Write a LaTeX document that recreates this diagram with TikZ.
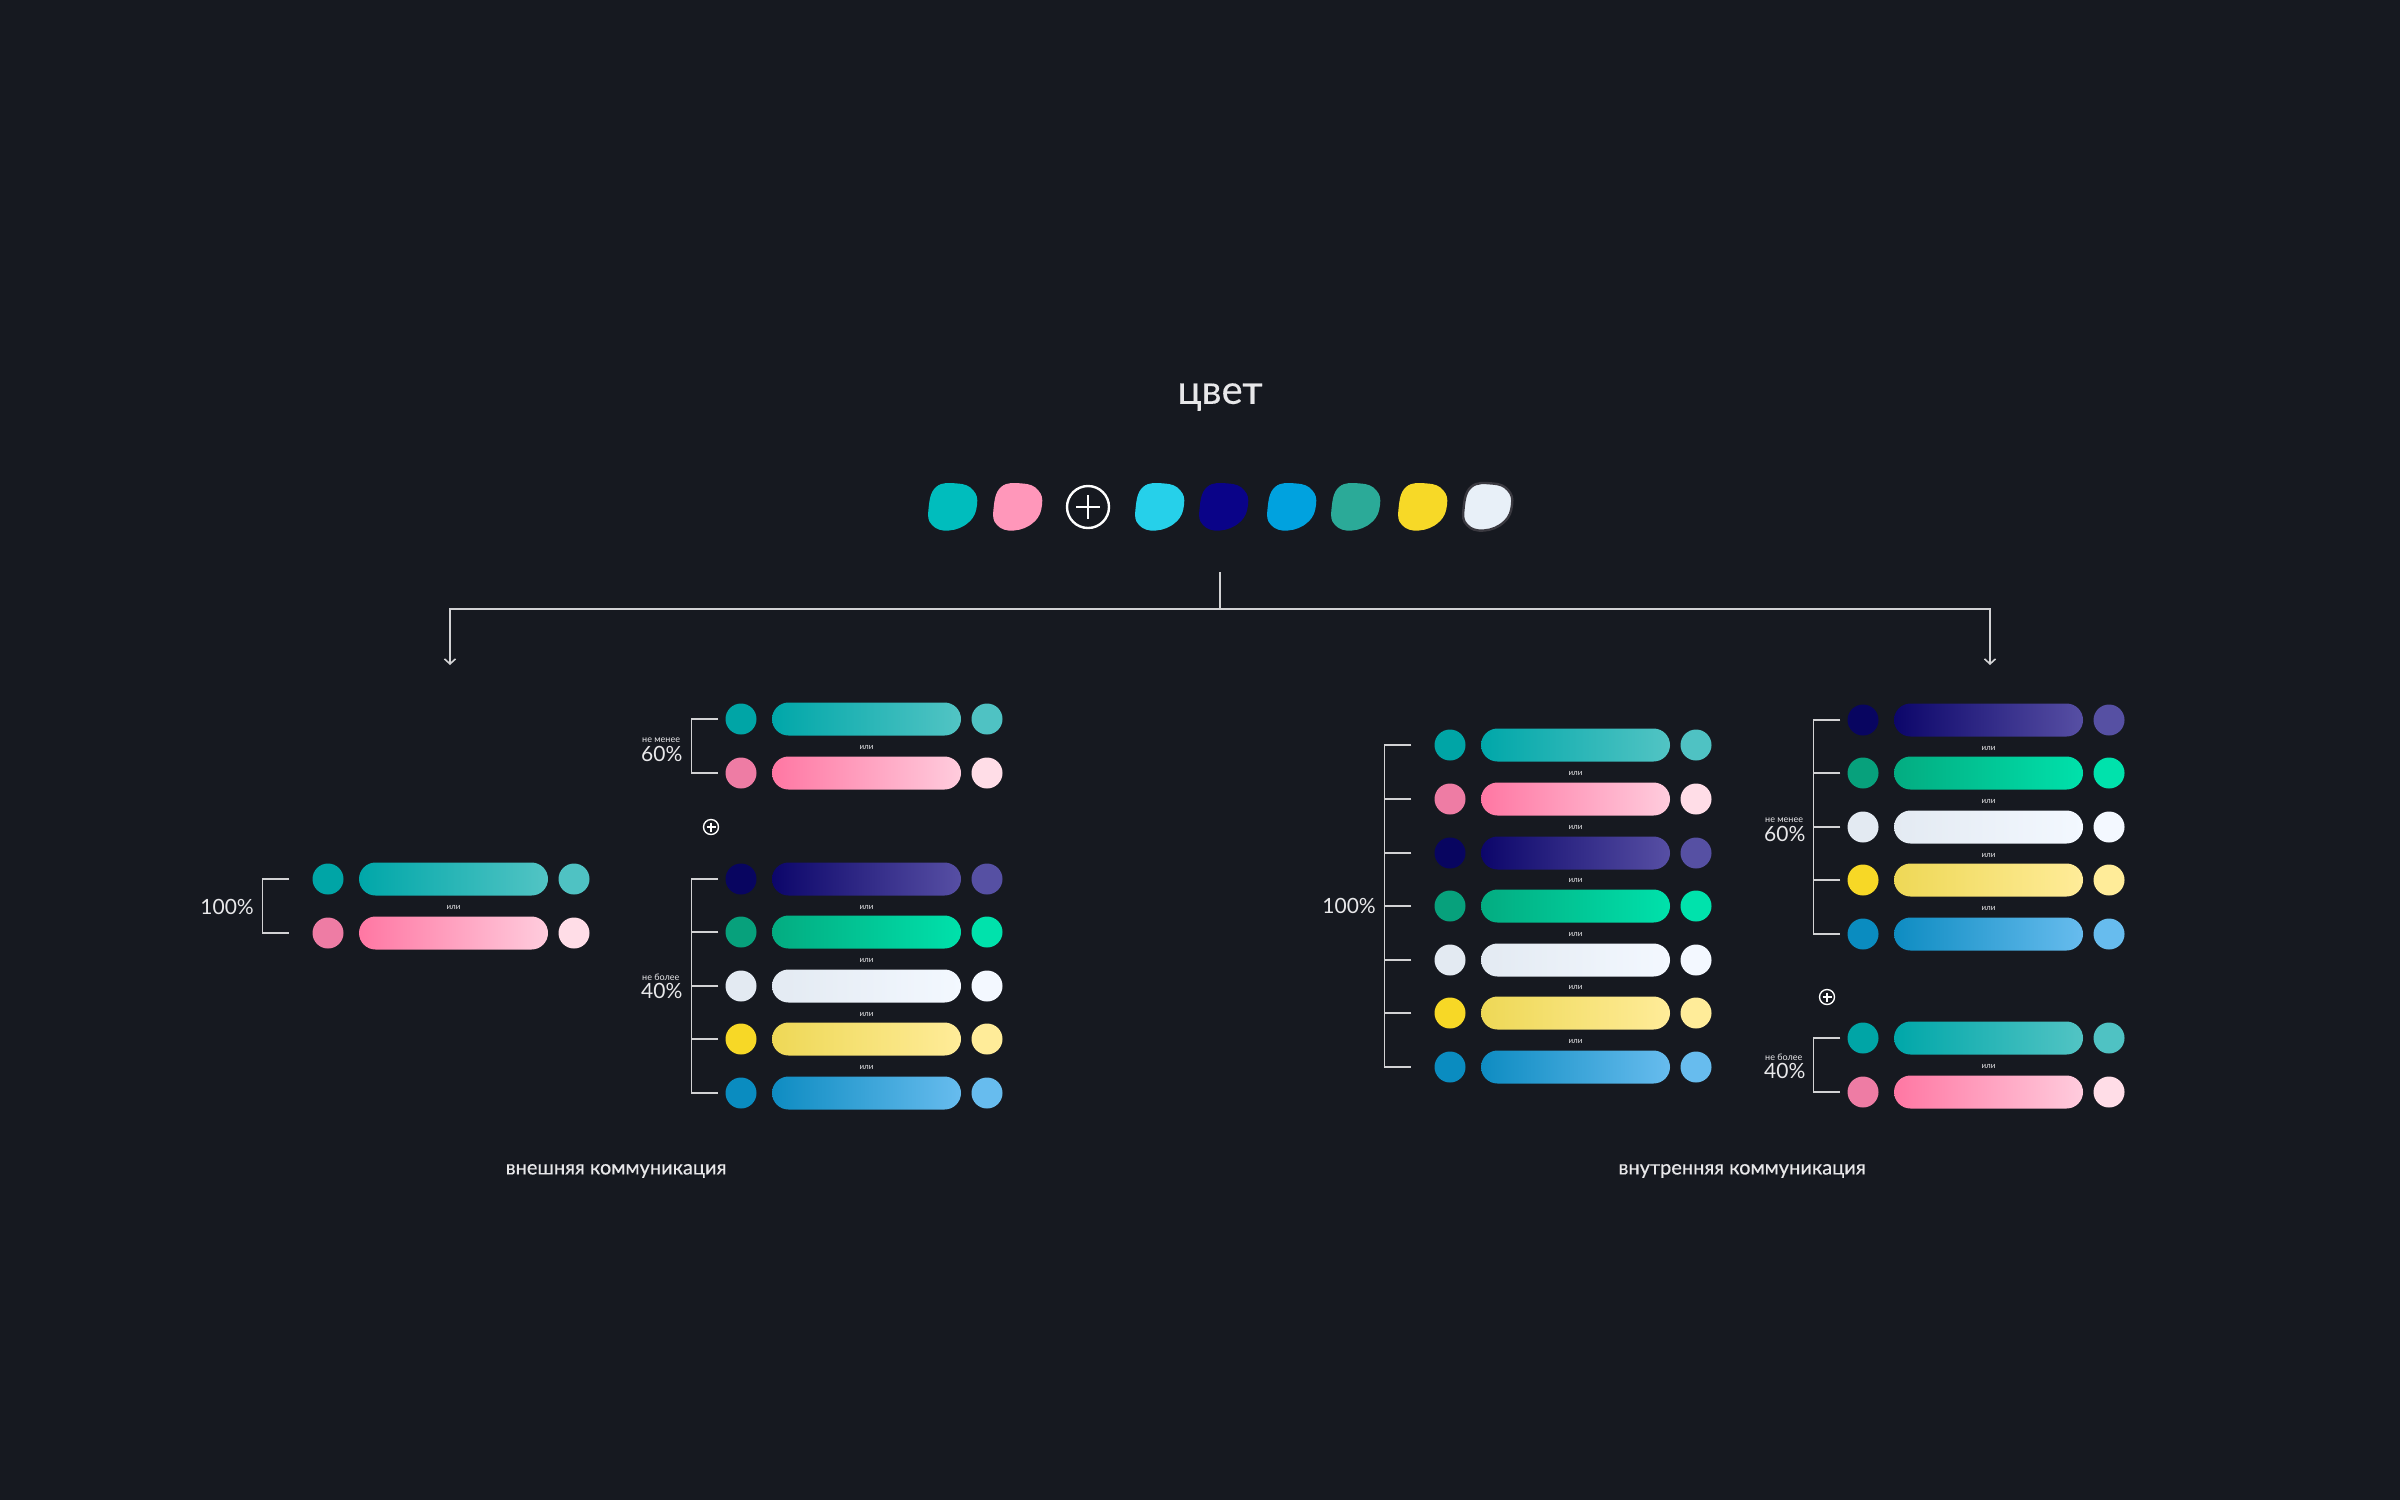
\documentclass[tikz,border=0pt]{standalone}
\usepackage{fontspec}
\setmainfont{Lato}
\newfontfamily\medfont{Lato}[FakeBold=0.35]
\usetikzlibrary{shapes.misc,arrows.meta,calc}
\definecolor{bgc}{HTML}{161920}
\definecolor{txtc}{HTML}{E8E8EA}
\definecolor{linec}{HTML}{D2D2D4}
% palettes: L = left dot, A/B = bar gradient, R = right dot
\definecolor{tealL}{HTML}{00A5A6}\definecolor{tealA}{HTML}{00A7A9}\definecolor{tealB}{HTML}{52C4C4}\definecolor{tealR}{HTML}{4FC2C3}
\definecolor{pinkL}{HTML}{EE7CA4}\definecolor{pinkA}{HTML}{FF77A3}\definecolor{pinkB}{HTML}{FFCCDD}\definecolor{pinkR}{HTML}{FFDDE7}
\definecolor{navyL}{HTML}{080560}\definecolor{navyA}{HTML}{0C066A}\definecolor{navyB}{HTML}{574FA4}\definecolor{navyR}{HTML}{5650A3}
\definecolor{grnL}{HTML}{07A17C}\definecolor{grnA}{HTML}{03AC81}\definecolor{grnB}{HTML}{00E1AB}\definecolor{grnR}{HTML}{00E2AC}
\definecolor{whtL}{HTML}{E3EAF2}\definecolor{whtA}{HTML}{E3EAF2}\definecolor{whtB}{HTML}{F3F8FF}\definecolor{whtR}{HTML}{F3F8FF}
\definecolor{ylwL}{HTML}{F7D826}\definecolor{ylwA}{HTML}{EED856}\definecolor{ylwB}{HTML}{FFEC99}\definecolor{ylwR}{HTML}{FFEC99}
\definecolor{bluL}{HTML}{0A8CC0}\definecolor{bluA}{HTML}{0E8CC2}\definecolor{bluB}{HTML}{67BCEE}\definecolor{bluR}{HTML}{67BCEE}
% blob colours
\definecolor{b1}{HTML}{00BDBD}\definecolor{b2}{HTML}{FF97BA}\definecolor{b3}{HTML}{26D0EA}
\definecolor{b4}{HTML}{0A0388}\definecolor{b5}{HTML}{00A2DF}\definecolor{b6}{HTML}{2BAA98}
\definecolor{b7}{HTML}{F7D927}\definecolor{b8}{HTML}{E8F0F8}\definecolor{b8o}{HTML}{3A3940}
\tikzset{
  dot/.style={circle,minimum size=31pt,inner sep=0pt,draw=none},
  bar/.style={rounded rectangle,minimum width=189pt,minimum height=33pt,inner sep=0pt,draw=none},
  ili/.style={text=txtc,inner sep=0pt,font=\fontsize{8}{9}\selectfont},
  pct/.style={text=txtc,inner sep=0pt,font=\fontsize{21}{22}\selectfont},
  small/.style={text=txtc,inner sep=0pt,font=\fontsize{9}{10}\selectfont},
  captxt/.style={text=txtc,inner sep=0pt,font=\medfont\fontsize{20}{22}\selectfont},
  brk/.style={draw=linec,line width=1.6pt},
  conn/.style={draw=linec,line width=1.8pt}
}
\newcommand{\crow}[4]{%
  \node[dot,fill=#4L] (#1l) at (#2,#3) {};
  \node[bar,left color=#4A,right color=#4B] (#1b) at (#2+125.5,#3) {};
  \node[dot,fill=#4R] (#1r) at (#2+246,#3) {};}
\newcommand{\ili}[3]{\node[ili] (#1) at (#2+125.5,#3) {или};}
\newcommand{\brkt}[4]{\draw[brk] ($(#1.west)+(-#3,0)$) -- ++(-27,0) |- ($(#2.west)+(-#3,0)$);}
\newcommand{\tck}[2]{\draw[brk] ($(#1.west)+(-#2,0)$) -- ++(-27,0);}
\newcommand{\blob}[4]{%
  \begin{scope}[shift={(#1,#2)}]
  \path[fill=#3,#4] plot[smooth cycle,tension=0.75] coordinates
   {(-17,-20) (4.5,-23.5) (20,-17) (24,-2) (16,15) (-4,23.5) (-21,18) (-24.5,2)};
  \end{scope}}
\newcommand{\plusc}[5]{%
  \node[circle,draw=white,line width=#5,minimum size=#3,inner sep=0pt] (#1) at #2 {};
  \draw[white,line width=#5] ($(#1.center)+(-#4,0)$) -- ($(#1.center)+(#4,0)$);
  \draw[white,line width=#5] ($(#1.center)+(0,-#4)$) -- ($(#1.center)+(0,#4)$);}
\begin{document}
\begin{tikzpicture}[x=1pt,y=-1pt]
\useasboundingbox (0,0) rectangle (2400,1500);
\fill[bgc] (0,0) rectangle (2400,1500);

% title
\node[text=txtc,inner sep=0pt,font=\medfont\fontsize{40}{42}\selectfont] (title) at (1220,397) {цвет};

% blobs
\blob{953}{507}{b1}{draw=none}
\blob{1018}{507}{b2}{draw=none}
\plusc{bigplus}{(1088,507)}{42pt}{12}{2.4pt}
\blob{1160}{507}{b3}{draw=none}
\blob{1224}{507}{b4}{draw=none}
\blob{1292}{507}{b5}{draw=none}
\blob{1356}{507}{b6}{draw=none}
\blob{1423}{507}{b7}{draw=none}
\blob{1488}{507}{b8}{draw=b8o,line width=2.4pt}

% connectors
\coordinate (top) at (1220,572);
\coordinate (hub) at (1220,609);
\coordinate (ext) at (450,665);
\coordinate (int) at (1990,665);
\draw[conn] (top) -- (hub);
\draw[conn,-{Straight Barb[length=5pt,width=11pt,line width=1.6pt]}] (hub) -| (ext);
\draw[conn,-{Straight Barb[length=5pt,width=11pt,line width=1.6pt]}] (hub) -| (int);

% ===== external communication =====
\crow{ea}{328}{879}{teal}
\crow{eb}{328}{933}{pink}
\ili{ei0}{328}{907}
\brkt{eal}{ebl}{23}{27}
\node[pct,anchor=east] (e100) at (254,907) {100\%};

\crow{fa}{741}{719}{teal}
\crow{fb}{741}{773}{pink}
\ili{fi0}{741}{747}
\brkt{fal}{fbl}{7}{27}
\node[small,anchor=west] (f60a) at (642,740) {не менее};
\node[pct,anchor=west] (f60) at (641,754) {60\%};

\plusc{eplus}{(711,827)}{15pt}{4.5}{1.4pt}

\crow{fc}{741}{879}{navy}
\crow{fd}{741}{932}{grn}
\crow{fe}{741}{986}{wht}
\crow{ff}{741}{1039}{ylw}
\crow{fg}{741}{1093}{blu}
\ili{fi1}{741}{907}
\ili{fi2}{741}{960}
\ili{fi3}{741}{1014}
\ili{fi4}{741}{1067}
\brkt{fcl}{fgl}{7}{27}
\tck{fdl}{7}\tck{fel}{7}\tck{ffl}{7}
\node[small,anchor=west] (f40a) at (642,977) {не более};
\node[pct,anchor=west] (f40) at (641,991) {40\%};

\node[captxt] (extcap) at (616,1171) {внешняя коммуникация};

% ===== internal communication =====
\crow{ia}{1450}{745}{teal}
\crow{ib}{1450}{799}{pink}
\crow{ic}{1450}{853}{navy}
\crow{id}{1450}{906}{grn}
\crow{ie}{1450}{960}{wht}
\crow{if}{1450}{1013}{ylw}
\crow{ig}{1450}{1067}{blu}
\ili{ii1}{1450}{773}
\ili{ii2}{1450}{827}
\ili{ii3}{1450}{880}
\ili{ii4}{1450}{934}
\ili{ii5}{1450}{987}
\ili{ii6}{1450}{1041}
\brkt{ial}{igl}{23}{27}
\tck{ibl}{23}\tck{icl}{23}\tck{idl}{23}\tck{iel}{23}\tck{ifl}{23}
\node[pct,anchor=east] (i100) at (1376,906) {100\%};

\crow{ja}{1863}{720}{navy}
\crow{jb}{1863}{773}{grn}
\crow{jc}{1863}{827}{wht}
\crow{jd}{1863}{880}{ylw}
\crow{je}{1863}{934}{blu}
\ili{ji1}{1863}{748}
\ili{ji2}{1863}{801}
\ili{ji3}{1863}{855}
\ili{ji4}{1863}{908}
\brkt{jal}{jel}{7}{27}
\tck{jbl}{7}\tck{jcl}{7}\tck{jdl}{7}
\node[small,anchor=west] (j60a) at (1765,820) {не менее};
\node[pct,anchor=west] (j60) at (1764,834) {60\%};

\plusc{iplus}{(1827,997)}{15pt}{4.5}{1.4pt}

\crow{jf}{1863}{1038}{teal}
\crow{jg}{1863}{1092}{pink}
\ili{ji5}{1863}{1066}
\brkt{jfl}{jgl}{7}{27}
\node[small,anchor=west] (j40a) at (1765,1057) {не более};
\node[pct,anchor=west] (j40) at (1764,1071) {40\%};

\node[captxt] (intcap) at (1742,1171) {внутренняя коммуникация};
\end{tikzpicture}
\end{document}
